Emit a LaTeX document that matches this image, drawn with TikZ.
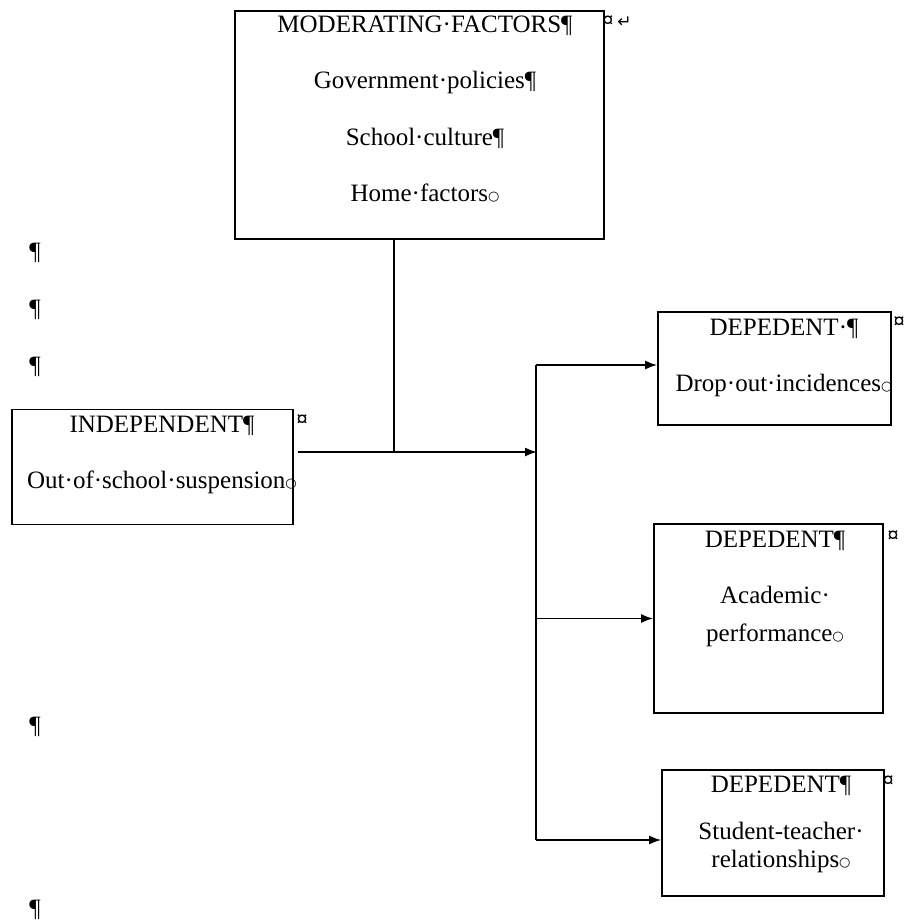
\documentclass[tikz,border=0pt]{standalone}
\usepackage{fontspec}
\setmainfont{Liberation Serif}
\newfontfamily\marksfont{DejaVu Sans}
\usetikzlibrary{arrows.meta,positioning}

% Word formatting marks
\newcommand{\cellend}{{\marksfont\fontsize{13}{13}\selectfont\raisebox{1pt}{○}}}
\newcommand{\rowend}{{\fontsize{22}{22}\selectfont\bfseries ¤}}

\begin{document}
\begin{tikzpicture}[x=1pt,y=-1pt,>={Latex[length=12pt,width=9pt]},line width=1.7pt,
  factorbox/.style={draw,inner sep=0pt},
  boxtext/.style={align=center,anchor=north,inner sep=0pt,
    font=\fontsize{25}{28.5}\selectfont},
  fmark/.style={inner sep=0pt,font=\fontsize{25}{28.5}\selectfont}]
  \useasboundingbox (0,0) rectangle (905,923);

  % boxes
  \node[factorbox,minimum width=369,minimum height=228] (moder) at (419.5,125) {};
  \node[factorbox,minimum width=281,minimum height=115] (indep) at (152.5,467) {};
  \node[factorbox,minimum width=233,minimum height=113] (drop)  at (774.5,368.5) {};
  \node[factorbox,minimum width=229,minimum height=189] (acad)  at (768.5,618.5) {};
  \node[factorbox,minimum width=222,minimum height=126] (stud)  at (773,833) {};

  % texts
  \node[boxtext] (modertext) at (425,15)
    {MODERATING·FACTORS¶\\[28pt]Government·policies¶\\[28pt]School·culture¶\\[28pt]Home·factors\cellend};
  \node[boxtext] (indeptext) at (162,415)
    {INDEPENDENT¶\\[28pt]Out·of·school·suspension\cellend};
  \node[boxtext] (droptext) at (784,318)
    {DEPEDENT·¶\\[28pt]Drop·out·incidences\cellend};
  \node[boxtext] (acadtext) at (775,530)
    {DEPEDENT¶\\[27.5pt]Academic·\\[9.5pt]performance\cellend};
  \node[boxtext] (studtext) at (781,775)
    {DEPEDENT¶\\[18.5pt]Student-teacher·\\relationships\cellend};

  % end marks
  \node[fmark] (moderend) at (617,22) {\rowend\,{\marksfont\fontsize{17}{17}\selectfont ↵}};
  \node[fmark] (independ) at (302,421) {\rowend};
  \node[fmark] (dropend)  at (899,323) {\rowend};
  \node[fmark] (acadend)  at (893,537) {\rowend};
  \node[fmark] (studend)  at (888,782) {\rowend};
  \foreach \y [count=\i] in {253,310,367,727,910}
    \node[fmark] (para\i) at (35,\y) {¶};

  % connectors
  \coordinate (split)  at (394,452);
  \coordinate (bus)    at (537,452);
  \coordinate (bustop) at (536,365);
  \coordinate (busbot) at (536,840);

  \draw (split |- moder.south) -- (split);
  \draw[->] ([xshift=4pt]indep.east |- split) -- (bus);
  \draw (bustop) -- (busbot);
  \draw[->] (bustop) -- (bustop -| drop.west);
  \draw[->] (bustop |- acad.west) -- (acad.west);
  \draw[->] (busbot) -- (busbot -| stud.west);
\end{tikzpicture}
\end{document}
